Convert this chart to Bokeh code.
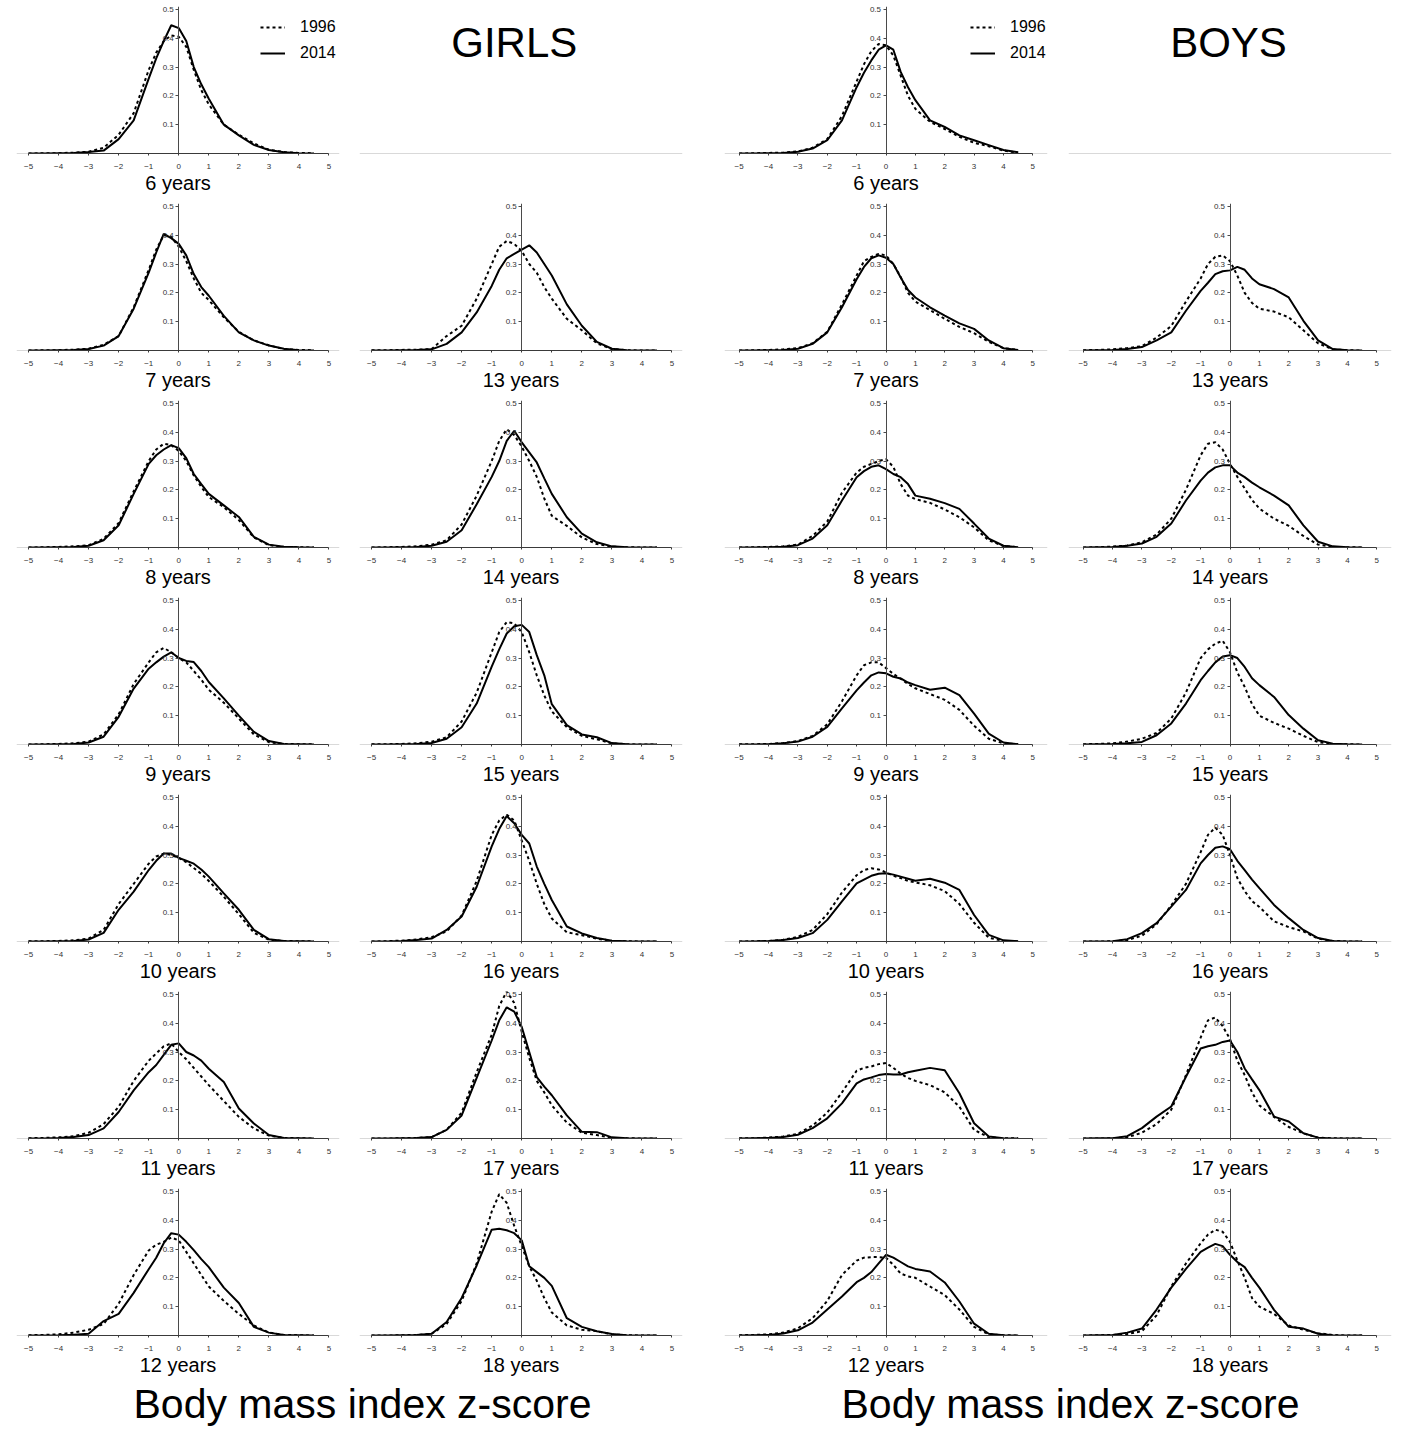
from bokeh.plotting import figure
from bokeh.layouts import column, row
from bokeh.models import Range1d, FixedTicker, Label, Span
from bokeh.embed import file_html
from bokeh.resources import INLINE

# z-score grid at which the density curves were read
Z = [-5, -4.5, -4, -3.5, -3, -2.5, -2, -1.5, -1, -0.75, -0.5, -0.25, 0,
     0.25, 0.5, 0.75, 1, 1.5, 2, 2.5, 3, 3.5, 4, 4.5]

X_TICKS = [-5, -4, -3, -2, -1, 0, 1, 2, 3, 4, 5]
Y_TICKS = [0.1, 0.2, 0.3, 0.4, 0.5]
YEARS = ["1996", "2014"]

GIRLS_1996 = {
    6:  [0, 0.001, 0.001, 0.003, 0.006, 0.02, 0.065, 0.14, 0.29, 0.35, 0.39, 0.41, 0.405, 0.37, 0.29, 0.22, 0.17, 0.10, 0.065, 0.035, 0.013, 0.005, 0.002, 0.001],
    7:  [0, 0.001, 0.001, 0.003, 0.006, 0.02, 0.05, 0.15, 0.28, 0.35, 0.40, 0.395, 0.36, 0.31, 0.25, 0.20, 0.175, 0.115, 0.065, 0.035, 0.018, 0.005, 0.002, 0.001],
    8:  [0, 0.001, 0.002, 0.004, 0.008, 0.03, 0.085, 0.195, 0.30, 0.34, 0.36, 0.355, 0.335, 0.30, 0.25, 0.21, 0.175, 0.14, 0.095, 0.035, 0.008, 0.002, 0.001, 0],
    9:  [0, 0.001, 0.002, 0.004, 0.01, 0.035, 0.105, 0.21, 0.285, 0.32, 0.335, 0.32, 0.30, 0.285, 0.255, 0.225, 0.19, 0.145, 0.09, 0.035, 0.008, 0.002, 0.001, 0.001],
    10: [0.001, 0.001, 0.002, 0.004, 0.01, 0.04, 0.13, 0.20, 0.27, 0.295, 0.305, 0.30, 0.29, 0.275, 0.255, 0.235, 0.21, 0.155, 0.095, 0.03, 0.006, 0.002, 0.001, 0.001],
    11: [0.001, 0.002, 0.004, 0.008, 0.02, 0.05, 0.11, 0.20, 0.27, 0.295, 0.32, 0.33, 0.30, 0.275, 0.245, 0.215, 0.185, 0.13, 0.075, 0.035, 0.01, 0.002, 0.001, 0],
    12: [0.001, 0.002, 0.004, 0.01, 0.02, 0.04, 0.11, 0.21, 0.295, 0.315, 0.325, 0.34, 0.33, 0.29, 0.25, 0.21, 0.17, 0.12, 0.075, 0.035, 0.01, 0.002, 0.001, 0],
    13: [0.001, 0.001, 0.002, 0.003, 0.005, 0.05, 0.086, 0.18, 0.30, 0.36, 0.38, 0.37, 0.345, 0.30, 0.27, 0.22, 0.18, 0.11, 0.07, 0.025, 0.005, 0.001, 0, 0],
    14: [0, 0.001, 0.002, 0.004, 0.01, 0.025, 0.08, 0.18, 0.30, 0.37, 0.41, 0.39, 0.35, 0.30, 0.245, 0.17, 0.11, 0.075, 0.035, 0.012, 0.003, 0.001, 0, 0],
    15: [0.001, 0.001, 0.002, 0.004, 0.01, 0.025, 0.08, 0.18, 0.32, 0.39, 0.425, 0.42, 0.39, 0.32, 0.24, 0.17, 0.115, 0.06, 0.03, 0.018, 0.004, 0.001, 0, 0],
    16: [0, 0.001, 0.003, 0.007, 0.015, 0.035, 0.09, 0.21, 0.37, 0.42, 0.44, 0.42, 0.35, 0.28, 0.20, 0.13, 0.08, 0.032, 0.022, 0.01, 0.002, 0.001, 0, 0],
    17: [0, 0, 0.001, 0.002, 0.005, 0.03, 0.09, 0.23, 0.36, 0.46, 0.51, 0.47, 0.37, 0.28, 0.20, 0.16, 0.115, 0.055, 0.02, 0.012, 0.002, 0.001, 0, 0],
    18: [0, 0, 0.001, 0.002, 0.006, 0.04, 0.12, 0.25, 0.43, 0.49, 0.46, 0.38, 0.31, 0.24, 0.19, 0.13, 0.08, 0.035, 0.02, 0.015, 0.004, 0.001, 0, 0],
}

GIRLS_2014 = {
    6:  [0, 0, 0.001, 0.002, 0.005, 0.01, 0.05, 0.115, 0.26, 0.33, 0.39, 0.445, 0.435, 0.39, 0.30, 0.24, 0.19, 0.10, 0.063, 0.03, 0.012, 0.004, 0.001, 0],
    7:  [0, 0, 0.001, 0.002, 0.005, 0.017, 0.05, 0.145, 0.27, 0.34, 0.405, 0.39, 0.37, 0.33, 0.265, 0.22, 0.19, 0.12, 0.063, 0.035, 0.017, 0.006, 0.001, 0],
    8:  [0, 0, 0.001, 0.002, 0.006, 0.025, 0.077, 0.186, 0.29, 0.32, 0.34, 0.355, 0.345, 0.31, 0.255, 0.22, 0.186, 0.146, 0.106, 0.037, 0.01, 0.003, 0.001, 0],
    9:  [0, 0, 0.001, 0.002, 0.007, 0.027, 0.096, 0.194, 0.263, 0.285, 0.305, 0.32, 0.30, 0.29, 0.286, 0.255, 0.217, 0.16, 0.10, 0.044, 0.012, 0.002, 0.001, 0],
    10: [0, 0, 0.001, 0.002, 0.007, 0.03, 0.11, 0.173, 0.248, 0.28, 0.305, 0.305, 0.29, 0.28, 0.27, 0.25, 0.225, 0.167, 0.11, 0.04, 0.008, 0.002, 0.001, 0],
    11: [0, 0, 0.002, 0.005, 0.012, 0.035, 0.092, 0.167, 0.23, 0.255, 0.29, 0.325, 0.33, 0.30, 0.288, 0.27, 0.242, 0.196, 0.104, 0.052, 0.012, 0.002, 0.001, 0],
    12: [0, 0, 0.001, 0.003, 0.006, 0.05, 0.075, 0.148, 0.23, 0.27, 0.32, 0.355, 0.35, 0.325, 0.296, 0.265, 0.237, 0.166, 0.113, 0.03, 0.01, 0.002, 0.001, 0],
    13: [0, 0, 0.001, 0.002, 0.004, 0.023, 0.063, 0.132, 0.224, 0.28, 0.32, 0.335, 0.35, 0.365, 0.34, 0.30, 0.26, 0.16, 0.086, 0.03, 0.006, 0.001, 0, 0],
    14: [0, 0, 0.001, 0.002, 0.006, 0.02, 0.06, 0.15, 0.245, 0.30, 0.37, 0.405, 0.365, 0.33, 0.295, 0.24, 0.186, 0.105, 0.048, 0.018, 0.004, 0.001, 0, 0],
    15: [0, 0, 0.001, 0.002, 0.005, 0.02, 0.06, 0.142, 0.27, 0.33, 0.385, 0.41, 0.415, 0.39, 0.31, 0.24, 0.14, 0.067, 0.035, 0.025, 0.005, 0.001, 0, 0],
    16: [0, 0, 0.002, 0.005, 0.01, 0.04, 0.087, 0.19, 0.33, 0.39, 0.435, 0.41, 0.37, 0.34, 0.26, 0.20, 0.144, 0.052, 0.028, 0.012, 0.003, 0.001, 0, 0],
    17: [0, 0, 0.001, 0.002, 0.005, 0.03, 0.08, 0.21, 0.34, 0.41, 0.455, 0.44, 0.387, 0.30, 0.213, 0.18, 0.15, 0.08, 0.023, 0.022, 0.004, 0.001, 0, 0],
    18: [0, 0, 0.001, 0.002, 0.006, 0.047, 0.13, 0.243, 0.367, 0.37, 0.365, 0.355, 0.33, 0.24, 0.22, 0.2, 0.172, 0.06, 0.03, 0.015, 0.005, 0.001, 0, 0],
}

BOYS_1996 = {
    6:  [0, 0.001, 0.002, 0.003, 0.007, 0.02, 0.05, 0.13, 0.25, 0.31, 0.355, 0.38, 0.375, 0.34, 0.27, 0.20, 0.155, 0.11, 0.085, 0.058, 0.037, 0.025, 0.01, 0.003],
    7:  [0, 0.001, 0.002, 0.004, 0.008, 0.025, 0.065, 0.16, 0.26, 0.31, 0.325, 0.335, 0.33, 0.30, 0.255, 0.20, 0.17, 0.14, 0.11, 0.082, 0.06, 0.03, 0.008, 0.002],
    8:  [0, 0.001, 0.002, 0.004, 0.01, 0.04, 0.09, 0.19, 0.26, 0.28, 0.29, 0.30, 0.306, 0.28, 0.22, 0.18, 0.168, 0.155, 0.132, 0.105, 0.07, 0.025, 0.005, 0.001],
    9:  [0.001, 0.001, 0.002, 0.005, 0.012, 0.03, 0.07, 0.15, 0.24, 0.275, 0.285, 0.285, 0.265, 0.245, 0.228, 0.21, 0.195, 0.175, 0.155, 0.12, 0.065, 0.02, 0.004, 0.001],
    10: [0, 0.001, 0.002, 0.006, 0.016, 0.04, 0.095, 0.17, 0.23, 0.248, 0.254, 0.25, 0.24, 0.228, 0.22, 0.21, 0.205, 0.195, 0.175, 0.13, 0.065, 0.013, 0.002, 0.001],
    11: [0.001, 0.001, 0.003, 0.007, 0.016, 0.045, 0.09, 0.16, 0.235, 0.245, 0.25, 0.258, 0.262, 0.245, 0.225, 0.21, 0.20, 0.185, 0.16, 0.11, 0.03, 0.004, 0.001, 0.001],
    12: [0.001, 0.002, 0.004, 0.01, 0.025, 0.06, 0.12, 0.21, 0.26, 0.27, 0.272, 0.272, 0.27, 0.245, 0.215, 0.205, 0.20, 0.17, 0.14, 0.09, 0.03, 0.004, 0.001, 0],
    13: [0.001, 0.002, 0.004, 0.008, 0.015, 0.045, 0.085, 0.17, 0.25, 0.30, 0.325, 0.33, 0.31, 0.26, 0.20, 0.165, 0.145, 0.135, 0.115, 0.07, 0.025, 0.004, 0.001, 0],
    14: [0, 0.001, 0.003, 0.007, 0.018, 0.045, 0.10, 0.20, 0.32, 0.36, 0.365, 0.34, 0.29, 0.245, 0.205, 0.165, 0.135, 0.10, 0.075, 0.04, 0.01, 0.002, 0.001, 0],
    15: [0.001, 0.002, 0.004, 0.01, 0.02, 0.04, 0.09, 0.18, 0.30, 0.33, 0.35, 0.36, 0.32, 0.25, 0.20, 0.14, 0.10, 0.075, 0.055, 0.03, 0.008, 0.002, 0.001, 0],
    16: [0, 0, 0.001, 0.005, 0.02, 0.06, 0.125, 0.20, 0.31, 0.37, 0.395, 0.37, 0.30, 0.22, 0.175, 0.14, 0.12, 0.07, 0.05, 0.035, 0.01, 0.002, 0, 0],
    17: [0, 0, 0.001, 0.004, 0.02, 0.05, 0.10, 0.22, 0.35, 0.41, 0.42, 0.39, 0.345, 0.27, 0.22, 0.16, 0.115, 0.075, 0.04, 0.018, 0.003, 0.001, 0, 0],
    18: [0, 0.001, 0.002, 0.005, 0.015, 0.07, 0.17, 0.25, 0.32, 0.35, 0.367, 0.36, 0.325, 0.26, 0.20, 0.13, 0.10, 0.075, 0.035, 0.02, 0.008, 0.002, 0, 0],
}

BOYS_2014 = {
    6:  [0, 0, 0.001, 0.002, 0.006, 0.017, 0.046, 0.115, 0.23, 0.28, 0.323, 0.36, 0.375, 0.36, 0.283, 0.23, 0.185, 0.115, 0.092, 0.063, 0.046, 0.029, 0.012, 0.004],
    7:  [0, 0, 0.001, 0.002, 0.006, 0.023, 0.063, 0.15, 0.247, 0.29, 0.32, 0.33, 0.322, 0.30, 0.253, 0.21, 0.184, 0.15, 0.121, 0.094, 0.075, 0.035, 0.008, 0.002],
    8:  [0, 0, 0.001, 0.003, 0.008, 0.031, 0.077, 0.163, 0.244, 0.265, 0.28, 0.285, 0.272, 0.255, 0.244, 0.22, 0.18, 0.169, 0.154, 0.134, 0.083, 0.031, 0.006, 0.001],
    9:  [0, 0, 0.001, 0.004, 0.01, 0.027, 0.061, 0.125, 0.188, 0.215, 0.24, 0.25, 0.247, 0.235, 0.229, 0.215, 0.206, 0.19, 0.197, 0.171, 0.107, 0.038, 0.007, 0.001],
    10: [0, 0, 0.002, 0.005, 0.012, 0.029, 0.075, 0.139, 0.202, 0.215, 0.228, 0.235, 0.237, 0.232, 0.225, 0.218, 0.211, 0.218, 0.204, 0.179, 0.092, 0.023, 0.004, 0.001],
    11: [0, 0.001, 0.002, 0.005, 0.013, 0.036, 0.07, 0.122, 0.191, 0.205, 0.212, 0.22, 0.224, 0.222, 0.222, 0.23, 0.235, 0.245, 0.237, 0.157, 0.053, 0.007, 0.001, 0],
    12: [0, 0.001, 0.002, 0.007, 0.018, 0.045, 0.09, 0.135, 0.185, 0.2, 0.22, 0.25, 0.28, 0.27, 0.255, 0.24, 0.231, 0.222, 0.184, 0.118, 0.041, 0.006, 0.001, 0],
    13: [0, 0.001, 0.002, 0.005, 0.012, 0.035, 0.063, 0.138, 0.207, 0.235, 0.265, 0.275, 0.278, 0.29, 0.28, 0.25, 0.23, 0.213, 0.184, 0.103, 0.035, 0.005, 0.001, 0],
    14: [0, 0.001, 0.002, 0.006, 0.014, 0.037, 0.083, 0.163, 0.232, 0.26, 0.278, 0.285, 0.285, 0.26, 0.244, 0.225, 0.209, 0.18, 0.146, 0.077, 0.02, 0.004, 0.001, 0],
    15: [0, 0.001, 0.002, 0.004, 0.009, 0.032, 0.073, 0.142, 0.223, 0.255, 0.285, 0.305, 0.31, 0.30, 0.269, 0.23, 0.206, 0.165, 0.102, 0.055, 0.015, 0.003, 0.001, 0],
    16: [0, 0, 0.001, 0.008, 0.029, 0.064, 0.121, 0.179, 0.271, 0.30, 0.325, 0.33, 0.32, 0.28, 0.248, 0.215, 0.185, 0.127, 0.081, 0.04, 0.012, 0.002, 0, 0],
    17: [0, 0.001, 0.001, 0.008, 0.036, 0.076, 0.111, 0.214, 0.312, 0.32, 0.325, 0.335, 0.34, 0.30, 0.243, 0.205, 0.168, 0.076, 0.059, 0.018, 0.003, 0, 0, 0],
    18: [0, 0.001, 0.002, 0.01, 0.024, 0.09, 0.166, 0.231, 0.29, 0.305, 0.318, 0.31, 0.28, 0.255, 0.237, 0.2, 0.166, 0.089, 0.03, 0.024, 0.006, 0.001, 0, 0],
}

LEFT_AGES = [6, 7, 8, 9, 10, 11, 12]
RIGHT_AGES = [None, 13, 14, 15, 16, 17, 18]

FONT = "Liberation Sans"
FRAME_W = 323
FRAME_H = 147
LEFT_B = 16
RIGHT_B = [4, 26, 5, 4]
TOP_FIRST = 6
TOP_B = 6
BOTTOM_B = 44
Y_END = 0.51

GIRLS_XR = (-5.4, 5.35)
BOYS_XR = (-5.5, 5.5)


def base_fig(xr, col, rowi):
    p = figure(frame_width=FRAME_W, frame_height=FRAME_H,
               x_range=Range1d(*xr), y_range=Range1d(0, Y_END),
               output_backend="svg", toolbar_location=None,
               min_border_left=LEFT_B, min_border_right=RIGHT_B[col],
               min_border_top=(TOP_FIRST if rowi == 0 else TOP_B),
               min_border_bottom=BOTTOM_B,
               outline_line_color=None, background_fill_color="white",
               border_fill_color="white")
    p.grid.visible = False
    # light grey base line across the whole plot region
    p.add_layout(Span(location=0, dimension="width", line_color="#b4b4b4",
                      line_width=1, level="underlay"))
    return p


def panel(xr, col, rowi, age, d96, d14, legend_x=None):
    p = base_fig(xr, col, rowi)
    xa = p.xaxis[0]
    xa.bounds = (X_TICKS[0], X_TICKS[-1])
    xa.ticker = FixedTicker(ticks=X_TICKS)
    xa.axis_line_color = "#3a3a3a"
    xa.axis_line_width = 1
    xa.major_tick_out = 2
    xa.major_tick_in = 0
    xa.major_tick_line_color = "#3a3a3a"
    xa.minor_tick_line_color = None
    xa.major_label_text_font = FONT
    xa.major_label_text_font_size = "8px"
    xa.major_label_text_color = "#333333"
    xa.major_label_standoff = 8
    xa.axis_label = f"{age} years"
    xa.axis_label_text_font = FONT
    xa.axis_label_text_font_size = "20px"
    xa.axis_label_text_font_style = "normal"
    xa.axis_label_text_color = "black"
    xa.axis_label_standoff = 0

    ya = p.yaxis[0]
    ya.fixed_location = 0
    ya.ticker = FixedTicker(ticks=Y_TICKS)
    ya.axis_line_color = "#4a4a4a"
    ya.major_tick_line_color = "#4a4a4a"
    ya.major_tick_out = 3
    ya.major_tick_in = 0
    ya.minor_tick_line_color = None
    ya.major_label_text_font = FONT
    ya.major_label_text_font_size = "8px"
    ya.major_label_text_color = "#333333"
    ya.major_label_standoff = 2

    kw96 = dict(line_color="black", line_width=2, line_dash="3 3")
    kw14 = dict(line_color="black", line_width=2)
    if legend_x is not None:
        kw96["legend_label"] = YEARS[0]
        kw14["legend_label"] = YEARS[1]
    p.line(Z, d96[age], **kw96)
    p.line(Z, d14[age], **kw14)

    if legend_x is not None:
        lg = p.legend[0]
        lg.location = (legend_x, 90)
        lg.glyph_width = 25
        lg.glyph_height = 20
        lg.label_height = 20
        lg.label_standoff = 15
        lg.spacing = 6
        lg.padding = 0
        lg.margin = 0
        lg.border_line_color = None
        lg.background_fill_alpha = 0
        lg.label_text_font = FONT
        lg.label_text_font_size = "16px"
        lg.label_text_color = "black"
    return p


def empty_panel(xr, col, heading, hx):
    p = base_fig(xr, col, 0)
    p.xaxis[0].visible = False
    p.yaxis[0].visible = False
    p.add_layout(Label(x=hx, y=0.385, text=heading, text_font=FONT,
                       text_font_size="42px", text_align="center",
                       text_baseline="middle", text_color="black"))
    return p


rows = []
for r in range(7):
    figs = []
    # girls left column
    figs.append(panel(GIRLS_XR, 0, r, LEFT_AGES[r], GIRLS_1996, GIRLS_2014,
                      legend_x=(FRAME_W - 79) if r == 0 else None))
    # girls right column
    if RIGHT_AGES[r] is None:
        figs.append(empty_panel(GIRLS_XR, 1, "GIRLS", -0.25))
    else:
        figs.append(panel(GIRLS_XR, 1, r, RIGHT_AGES[r], GIRLS_1996, GIRLS_2014))
    # boys left column
    figs.append(panel(BOYS_XR, 2, r, LEFT_AGES[r], BOYS_1996, BOYS_2014,
                      legend_x=(FRAME_W - 77) if r == 0 else None))
    # boys right column
    if RIGHT_AGES[r] is None:
        figs.append(empty_panel(BOYS_XR, 3, "BOYS", -0.05))
    else:
        figs.append(panel(BOYS_XR, 3, r, RIGHT_AGES[r], BOYS_1996, BOYS_2014))
    rows.append(row(*figs))

TOTAL_W = 4 * (LEFT_B + FRAME_W) + sum(RIGHT_B)
TITLE_H = 50
t = figure(width=TOTAL_W, height=TITLE_H, x_range=Range1d(0, TOTAL_W),
           y_range=Range1d(0, TITLE_H), output_backend="svg",
           toolbar_location=None, min_border=0, outline_line_color=None)
t.axis.visible = False
t.grid.visible = False
for cx in (362, 1070):
    t.add_layout(Label(x=cx, y=25.5, text="Body mass index z-score",
                       text_font=FONT, text_font_size="41px",
                       text_align="center", text_baseline="middle",
                       text_color="black"))

layout = column(*rows, t)

open("out.html", "w").write(file_html(layout, INLINE))
